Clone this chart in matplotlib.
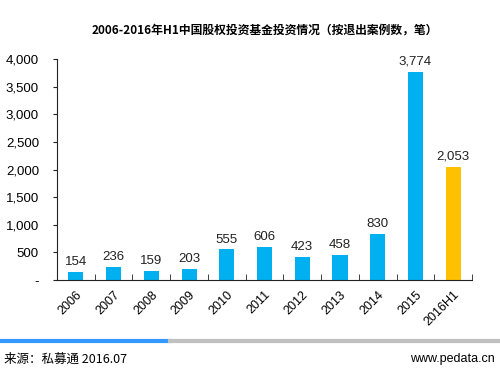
import numpy as np
from matplotlib import pyplot as plt
from matplotlib.ticker import FuncFormatter, FixedLocator
from matplotlib.lines import Line2D

plt.rcParams['font.family'] = ['Liberation Sans', 'Noto Sans CJK SC', 'DejaVu Sans']

years = ['2006', '2007', '2008', '2009', '2010', '2011', '2012', '2013', '2014', '2015', '2016H1']
counts = [154, 236, 159, 203, 555, 606, 423, 458, 830, 3774, 2053]
colors = ['#00B0F0'] * 10 + ['#FFC000']

fig = plt.figure(figsize=(5, 3.72), dpi=100)
ax = fig.add_axes([0.114, 0.247, 0.83, 0.594])

x = np.arange(len(years))
ax.bar(x, counts, width=0.4, color=colors)
for xi, v in zip(x, counts):
    ax.text(xi, v + 70, f'{v:,}', ha='center', va='bottom', fontsize=9.5, color='#222222')

ax.set_xlim(-0.5, len(years) - 0.5)
ax.set_ylim(0, 4000)
ax.set_yticks(range(0, 4001, 500))
ax.yaxis.set_major_formatter(FuncFormatter(lambda v, p: '-' if v == 0 else f'{int(v):,}'))
ax.set_xticks(x)
ax.set_xticklabels(years, rotation=45, ha='right', rotation_mode='anchor', fontsize=9)
ax.xaxis.set_minor_locator(FixedLocator(np.arange(-0.5, len(years), 1.0)))
ax.tick_params(axis='x', which='major', length=0, pad=6)
ax.tick_params(axis='x', which='minor', direction='in', length=4, color='#222222')
ax.tick_params(axis='y', direction='out', length=3, labelsize=9.5, pad=10, color='#222222')

for s in ['top', 'right']:
    ax.spines[s].set_visible(False)
for s in ['left', 'bottom']:
    ax.spines[s].set_color('#222222')

fig.text(0.53, 0.92, '2006-2016年H1中国股权投资基金投资情况（按退出案例数，笔）',
         ha='center', va='center', fontsize=8.5, fontweight='bold',
         family=['Noto Sans CJK SC', 'DejaVu Sans'])

fig.add_artist(Line2D([0, 0.34], [0.083, 0.083], color='#3399FF', lw=3, transform=fig.transFigure))
fig.add_artist(Line2D([0.34, 1.0], [0.083, 0.083], color='#C0C0C0', lw=3, transform=fig.transFigure))
fig.text(0.008, 0.035, '来源：私募通 2016.07', ha='left', va='center', fontsize=9,
         family=['Noto Sans CJK SC', 'DejaVu Sans'])
fig.text(0.99, 0.035, 'www.pedata.cn', ha='right', va='center', fontsize=9)

fig.savefig('out.png', dpi=100)
